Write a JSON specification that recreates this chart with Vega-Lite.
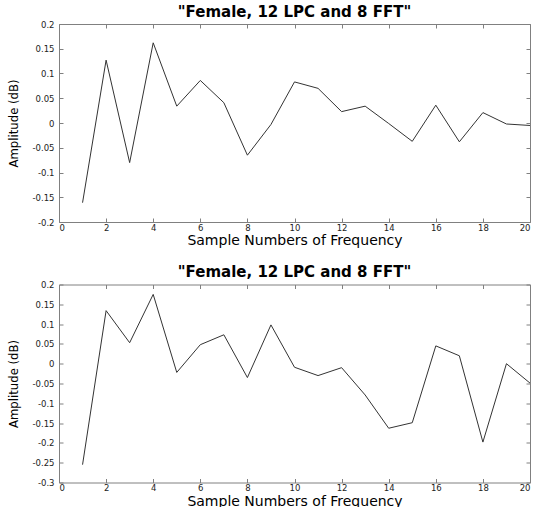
{
  "$schema": "https://vega.github.io/schema/vega-lite/v6.json",
  "background": "white",
  "padding": {"left": 6, "top": 4, "right": 0, "bottom": 0},
  "spacing": 62.5,
  "bounds": "flush",
  "datasets": {
    "top": [
      {"n": 1, "amp": -0.161}, {"n": 2, "amp": 0.127}, {"n": 3, "amp": -0.080}, {"n": 4, "amp": 0.162},
      {"n": 5, "amp": 0.034}, {"n": 6, "amp": 0.086}, {"n": 7, "amp": 0.041}, {"n": 8, "amp": -0.065},
      {"n": 9, "amp": -0.003}, {"n": 10, "amp": 0.083}, {"n": 11, "amp": 0.070}, {"n": 12, "amp": 0.023},
      {"n": 13, "amp": 0.034}, {"n": 14, "amp": -0.001}, {"n": 15, "amp": -0.037}, {"n": 16, "amp": 0.036},
      {"n": 17, "amp": -0.038}, {"n": 18, "amp": 0.021}, {"n": 19, "amp": -0.002}, {"n": 20, "amp": -0.005}
    ],
    "bottom": [
      {"n": 1, "amp": -0.255}, {"n": 2, "amp": 0.134}, {"n": 3, "amp": 0.053}, {"n": 4, "amp": 0.175},
      {"n": 5, "amp": -0.022}, {"n": 6, "amp": 0.048}, {"n": 7, "amp": 0.073}, {"n": 8, "amp": -0.035},
      {"n": 9, "amp": 0.098}, {"n": 10, "amp": -0.009}, {"n": 11, "amp": -0.030}, {"n": 12, "amp": -0.010},
      {"n": 13, "amp": -0.079}, {"n": 14, "amp": -0.163}, {"n": 15, "amp": -0.149}, {"n": 16, "amp": 0.045},
      {"n": 17, "amp": 0.020}, {"n": 18, "amp": -0.198}, {"n": 19, "amp": 0.000}, {"n": 20, "amp": -0.049}
    ]
  },
  "config": {
    "view": {"stroke": "#808080", "strokeWidth": 1},
    "axis": {
      "grid": false,
      "domain": false,
      "tickColor": "#808080",
      "tickSize": -4,
      "labelFont": "DejaVu Sans",
      "labelFontSize": 8.5,
      "labelColor": "#222222",
      "titleColor": "#000000",
      "titleFontWeight": "normal"
    },
    "axisX": {"labelPadding": 5, "titleFont": "DejaVu Sans", "titleFontSize": 14, "titlePadding": 2},
    "axisY": {"labelPadding": 9, "titleFont": "Liberation Sans Narrow, DejaVu Sans Condensed, sans-serif", "titleFontSize": 13, "titlePadding": 12},
    "title": {"font": "DejaVu Sans", "fontSize": 15, "fontWeight": "bold", "color": "#000000", "anchor": "middle", "offset": 0.5}
  },
  "vconcat": [
    {
      "width": 471,
      "height": 198,
      "title": "\"Female, 12 LPC and 8 FFT\"",
      "data": {"name": "top"},
      "layer": [
        {
          "mark": {"type": "line", "color": "#333333", "strokeWidth": 1},
          "encoding": {
            "x": {"field": "n", "type": "quantitative", "scale": {"domain": [0, 20], "nice": false},
                  "axis": {"values": [0, 2, 4, 6, 8, 10, 12, 14, 16, 18, 20], "title": "Sample Numbers of Frequency"}},
            "y": {"field": "amp", "type": "quantitative", "scale": {"domain": [-0.2, 0.2], "nice": false, "zero": false},
                  "axis": {"values": [-0.2, -0.15, -0.1, -0.05, 0, 0.05, 0.1, 0.15, 0.2], "title": "Amplitude (dB)",
                           "labelExpr": "replace(format(datum.value, '.2~f'), '\u2212', '-')"}}
          }
        },
        {
          "mark": {"type": "line", "opacity": 0},
          "encoding": {
            "x": {"field": "n", "type": "quantitative",
                  "axis": {"orient": "top", "labels": false, "title": null, "values": [0, 2, 4, 6, 8, 10, 12, 14, 16, 18, 20]}},
            "y": {"field": "amp", "type": "quantitative",
                  "axis": {"orient": "right", "labels": false, "title": null, "values": [-0.2, -0.15, -0.1, -0.05, 0, 0.05, 0.1, 0.15, 0.2]}}
          }
        }
      ],
      "resolve": {"axis": {"x": "independent", "y": "independent"}}
    },
    {
      "width": 471,
      "height": 198,
      "title": "\"Female, 12 LPC and 8 FFT\"",
      "data": {"name": "bottom"},
      "layer": [
        {
          "mark": {"type": "line", "color": "#333333", "strokeWidth": 1},
          "encoding": {
            "x": {"field": "n", "type": "quantitative", "scale": {"domain": [0, 20], "nice": false},
                  "axis": {"values": [0, 2, 4, 6, 8, 10, 12, 14, 16, 18, 20], "title": "Sample Numbers of Frequency"}},
            "y": {"field": "amp", "type": "quantitative", "scale": {"domain": [-0.3, 0.2], "nice": false, "zero": false},
                  "axis": {"values": [-0.3, -0.25, -0.2, -0.15, -0.1, -0.05, 0, 0.05, 0.1, 0.15, 0.2], "title": "Amplitude (dB)",
                           "labelExpr": "replace(format(datum.value, '.2~f'), '\u2212', '-')"}}
          }
        },
        {
          "mark": {"type": "line", "opacity": 0},
          "encoding": {
            "x": {"field": "n", "type": "quantitative",
                  "axis": {"orient": "top", "labels": false, "title": null, "values": [0, 2, 4, 6, 8, 10, 12, 14, 16, 18, 20]}},
            "y": {"field": "amp", "type": "quantitative",
                  "axis": {"orient": "right", "labels": false, "title": null, "values": [-0.3, -0.25, -0.2, -0.15, -0.1, -0.05, 0, 0.05, 0.1, 0.15, 0.2]}}
          }
        }
      ],
      "resolve": {"axis": {"x": "independent", "y": "independent"}}
    }
  ]
}
